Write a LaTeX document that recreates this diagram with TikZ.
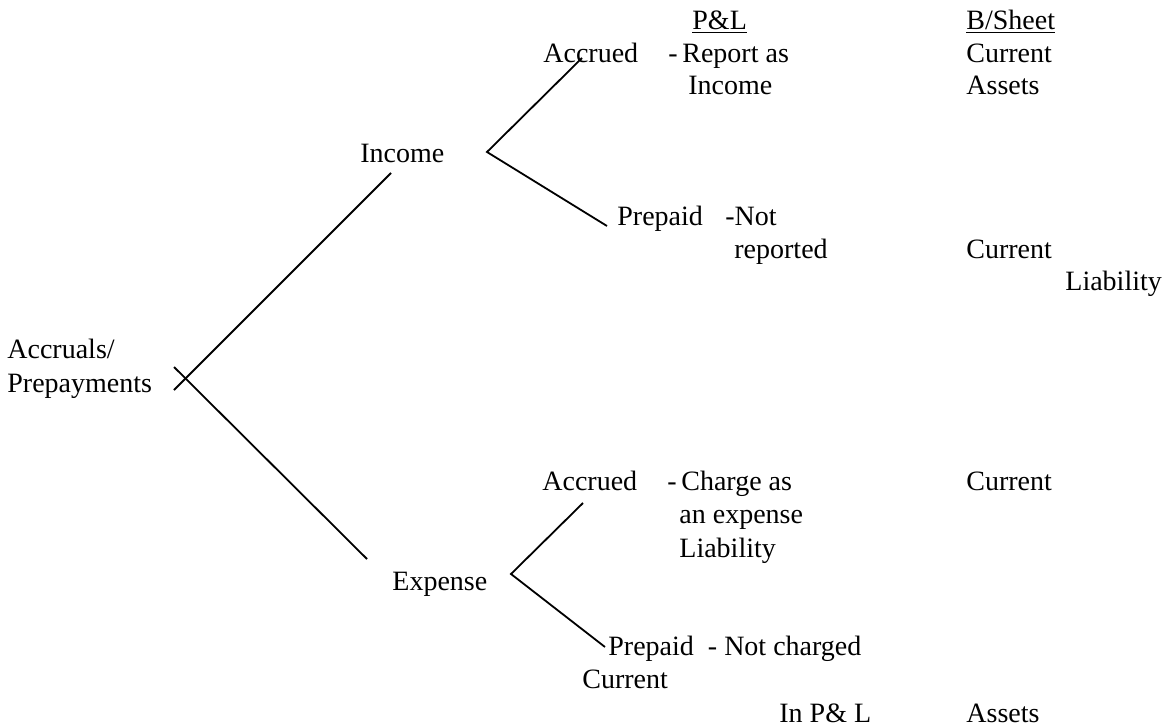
\documentclass[tikz,border=0pt]{standalone}
\usepackage{fontspec}
\setmainfont{Liberation Serif}

\begin{document}
\begin{tikzpicture}[x=0.5pt,y=-0.5pt,
    lbl/.style={anchor=base west,inner sep=0pt,font=\fontsize{14}{16}\selectfont},
    branch/.style={line width=0.9pt}]
    \useasboundingbox (0,0) rectangle (1163,728);
    % column heads
    \node[lbl] (pl) at (692,29) {\underline{P\&L}};
    \node[lbl] (bs) at (966,29) {\underline{B/Sheet}};
    % root
    \node[lbl] (root1) at (7,358) {Accruals/};
    \node[lbl] (root2) at (7,392) {Prepayments};
    \node[lbl] (inc) at (360,162) {Income};
    \node[lbl] (exp) at (392,590) {Expense};
    % income side
    \node[lbl] (incacc) at (543,62) {Accrued};
    \node[lbl] (incacc1) at (668,62) {-\,Report as};
    \node[lbl] (incacc2) at (688,94) {Income};
    \node[lbl] (incacc3) at (966,62) {Current};
    \node[lbl] (incacc4) at (966,94) {Assets};
    \node[lbl] (incpre) at (617,225) {Prepaid};
    \node[lbl] (incpre1) at (725,225) {-Not};
    \node[lbl] (incpre2) at (734,258) {reported};
    \node[lbl] (incpre3) at (966,258) {Current};
    \node[lbl] (incpre4) at (1065,290) {Liability};
    % expense side
    \node[lbl] (expacc) at (542,490) {Accrued};
    \node[lbl] (expacc1) at (667,490) {-\,Charge as};
    \node[lbl] (expacc2) at (679,523) {an expense};
    \node[lbl] (expacc3) at (679,557) {Liability};
    \node[lbl] (expacc4) at (966,490) {Current};
    \node[lbl] (exppre) at (608,655) {Prepaid\ \ - Not charged};
    \node[lbl] (exppre1) at (582,688) {Current};
    \node[lbl] (exppre2) at (779,722) {In P\& L};
    \node[lbl] (exppre3) at (966,722) {Assets};
    % branch points
    \coordinate (rootlo) at (174,390);
    \coordinate (roothi) at (174,367);
    \coordinate (incend) at (391,173);
    \coordinate (expend) at (367,559);
    \coordinate (incfork) at (487,152);
    \coordinate (incaccend) at (582,58);
    \coordinate (incpreend) at (607,226);
    \coordinate (expfork) at (511,574);
    \coordinate (expaccend) at (583,503);
    \coordinate (exppreend) at (605,647);
    \draw[branch] (rootlo) -- (incend);
    \draw[branch] (roothi) -- (expend);
    \draw[branch] (incaccend) -- (incfork) -- (incpreend);
    \draw[branch] (expaccend) -- (expfork) -- (exppreend);
\end{tikzpicture}
\end{document}
